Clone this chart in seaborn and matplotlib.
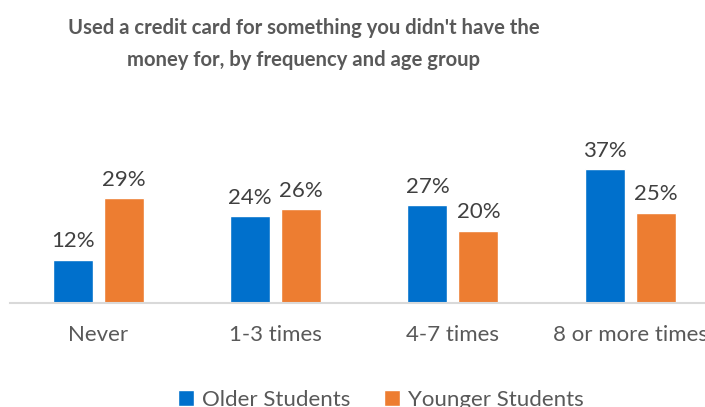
import matplotlib
matplotlib.use("Agg")
import matplotlib.pyplot as plt
import seaborn as sns
import pandas as pd

# values
frequency = ["Never", "1-3 times", "4-7 times", "8 or more times"]
older_students = [12, 24, 27, 37]
younger_students = [29, 26, 20, 25]
groups = ["Older Students", "Younger Students"]

df = pd.DataFrame({
    "frequency": frequency * 2,
    "group": [groups[0]] * 4 + [groups[1]] * 4,
    "pct": older_students + younger_students,
})

sns.set_style("white")
plt.rcParams["font.family"] = ["Lato", "DejaVu Sans"]

fig = plt.figure(figsize=(7.05, 4.07), dpi=100)
# the original chart is cut off on the right, so the axes runs past the edge
ax = fig.add_axes([0.0135, 0.2555, 1.0064, 0.4447])

sns.barplot(data=df, x="frequency", y="pct", hue="group", order=frequency,
            hue_order=groups, palette=["#0070CC", "#ED7D31"], saturation=1,
            width=0.575, gap=0.216, ax=ax, legend=True)

for c in ax.containers:
    ax.bar_label(c, fmt="%.0f%%", padding=6, fontsize=16, color="#404040")

ax.set_ylim(0, 50)
ax.set_xlim(-0.5, 3.5)
ax.set_yticks([])
ax.set_xlabel("")
ax.set_ylabel("")
for s in ["top", "right", "left"]:
    ax.spines[s].set_visible(False)
ax.spines["bottom"].set_color("#D9D9D9")
ax.spines["bottom"].set_linewidth(1.5)
ax.tick_params(axis="x", length=0, pad=16, labelsize=16, labelcolor="#595959")

handles, labels = ax.get_legend_handles_labels()
ax.get_legend().remove()
fig.legend(handles, labels, loc="center", bbox_to_anchor=(0.54, 0.018),
           ncol=2, frameon=False, fontsize=16, labelcolor="#595959",
           handlelength=0.75, handleheight=0.75, handletextpad=0.35,
           columnspacing=1.5)

fig.text(0.431, 0.892, "Used a credit card for something you didn't have the\n"
         "money for, by frequency and age group", ha="center", va="center",
         fontsize=14.6, fontweight="bold", color="#595959", linespacing=1.75)

fig.savefig("out.png", dpi=100)
